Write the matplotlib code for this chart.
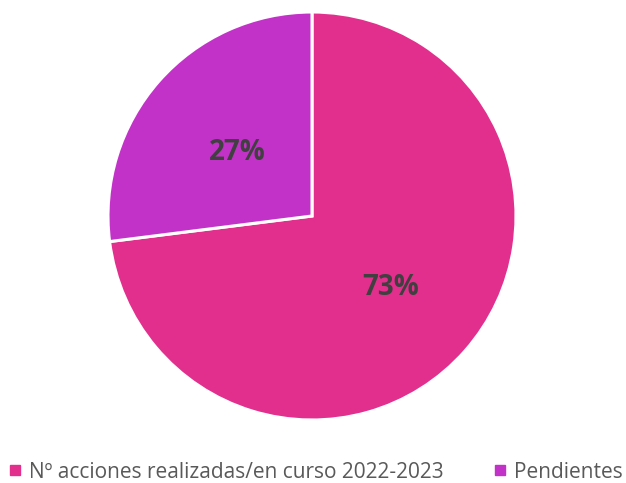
import matplotlib
matplotlib.use("Agg")
import matplotlib.pyplot as plt
from matplotlib.lines import Line2D

categories = ["Nº acciones realizadas/en curso 2022-2023", "Pendientes"]
values = [73, 27]
colors = ["#E22F8D", "#C332C8"]

plt.rcParams['font.family'] = ['Open Sans', 'DejaVu Sans']

fig = plt.figure(figsize=(6.26, 4.83), dpi=100)
W, H = 626, 483
cx, cy, r = 312, 216, 204
ax = fig.add_axes([(cx - r) / W, (H - cy - r) / H, 2 * r / W, 2 * r / H])

wedges, texts, autotexts = ax.pie(values, colors=colors, startangle=90, counterclock=False,
                                  autopct='%d%%', pctdistance=0.5,
                                  wedgeprops=dict(edgecolor='white', linewidth=2.2),
                                  textprops=dict(color='#404040', fontsize=20, fontweight='bold'))
# nudge labels a little lower, like the original
for t in autotexts:
    x, y = t.get_position()
    t.set_position((x + 0.01, y - 0.02))
ax.set_xlim(-1, 1)
ax.set_ylim(-1, 1)
ax.set_aspect('equal')

handles = [Line2D([], [], marker='s', linestyle='', markersize=7, color=c) for c in colors]
fig.legend(handles, categories, loc='center', bbox_to_anchor=(0.505, 1 - 472 / H), ncol=2,
           frameon=False, fontsize=15, labelcolor='#595959', handlelength=0.55,
           handletextpad=0.4, columnspacing=2.4)

fig.savefig("out.png", dpi=100)
